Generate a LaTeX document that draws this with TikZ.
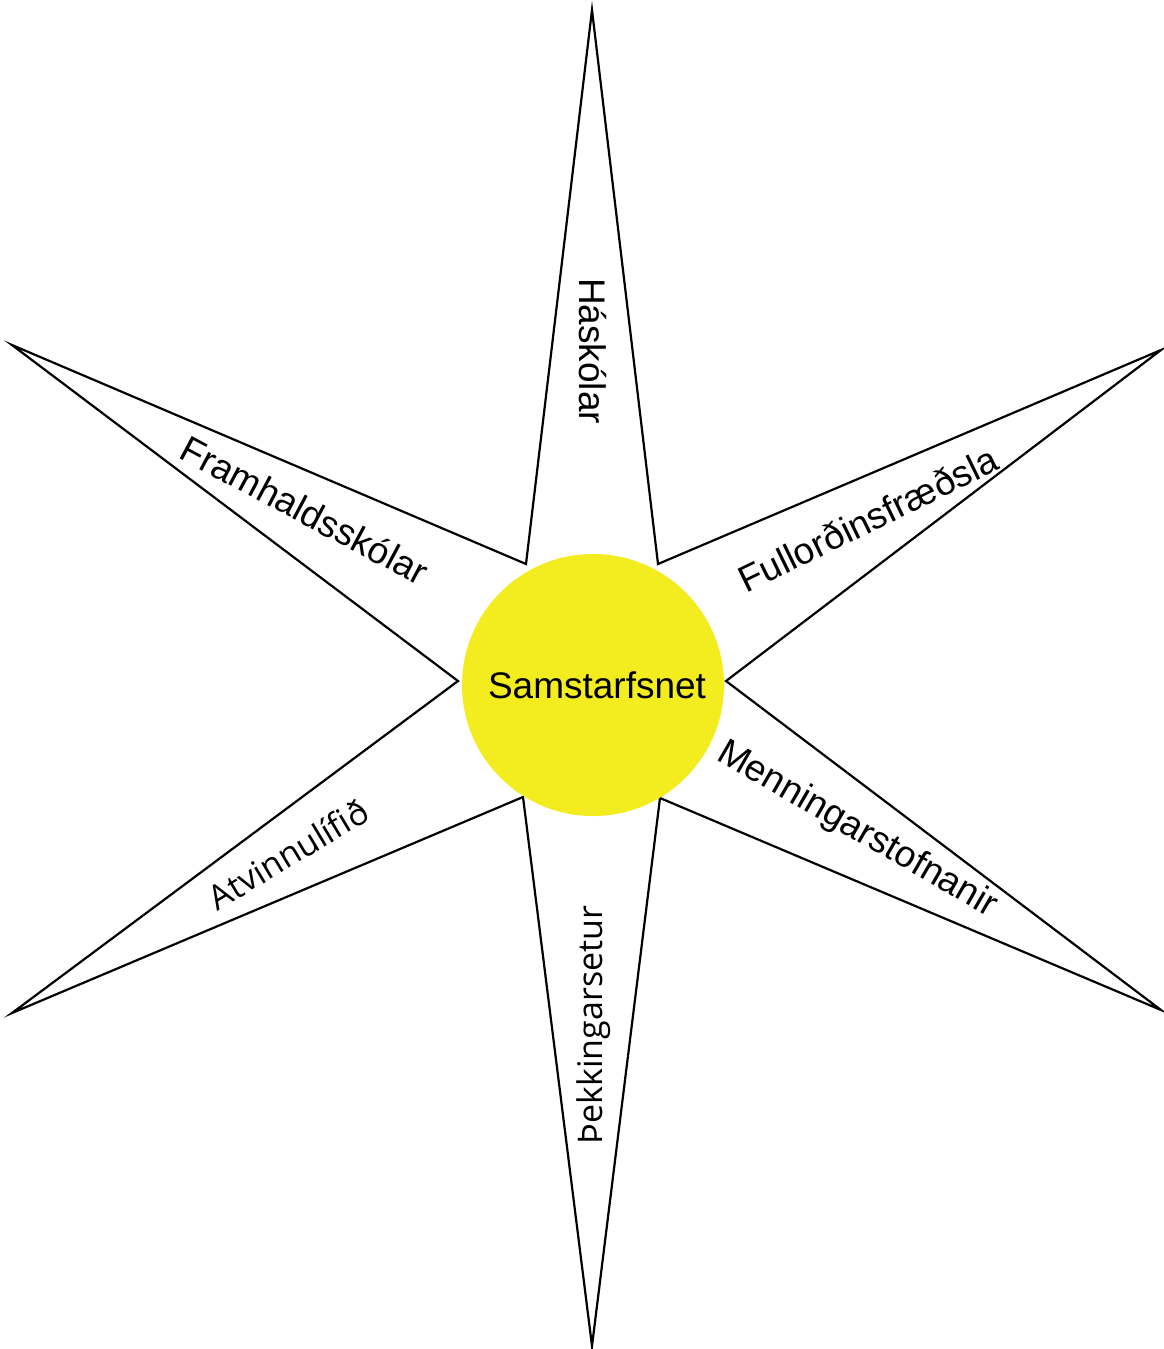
\documentclass[tikz,border=0pt]{standalone}
\usepackage{fontspec}
\setmainfont{Liberation Sans}
\newfontfamily\humfont{Open Sans}
\definecolor{sunyellow}{HTML}{F3EC1E}

\begin{document}
\begin{tikzpicture}[x=1pt,y=-1pt,
    arm/.style={line width=2.2pt,line join=miter},
    hub/.style={circle,fill=sunyellow,minimum size=262pt,inner sep=0pt,font=\fontsize{37}{40}\selectfont},
    lbl/.style={inner sep=0pt,font=\fontsize{37}{40}\selectfont},
    lblb/.style={inner sep=0pt,font=\humfont\fontsize{34}{36}\selectfont}]
  \useasboundingbox (0,0) rectangle (1163,1349);
  % outer tips and inner corners of the star
  \coordinate (t)  at (592,10);    \coordinate (it)  at (658,564);
  \coordinate (ur) at (1161,350);  \coordinate (ir)  at (726,681);
  \coordinate (lr) at (1161,1010); \coordinate (ibr) at (660,798);
  \coordinate (b)  at (592,1346);  \coordinate (ibl) at (523,797);
  \coordinate (ll) at (12,1013);   \coordinate (il)  at (458,681);
  \coordinate (ul) at (12,345);    \coordinate (itl) at (526,564);
  \draw[arm] (t) -- (it) -- (ur) -- (ir) -- (lr) -- (ibr) -- (b)
    -- (ibl) -- (ll) -- (il) -- (ul) -- (itl) -- cycle;

  \node[hub] (net) at (593,685) {\hspace*{8pt}Samstarfsnet};

  \node[lbl,rotate=-90] (hask) at (593,351) {Háskólar};
  \node[lbl,rotate=-28] (frams) at (305,510) {Framhaldsskólar};
  \node[lbl,rotate=26]  (fullo) at (868,519) {Fullorðinsfræðsla};
  \node[lbl,rotate=-30] (menn) at (857,830) {Menningarstofnanir};
  \node[lblb,rotate=31] (atv) at (288,854) {Atvinnulífið};
  \node[lblb,rotate=90] (thekk) at (594,1025) {Þekkingarsetur};
\end{tikzpicture}
\end{document}
